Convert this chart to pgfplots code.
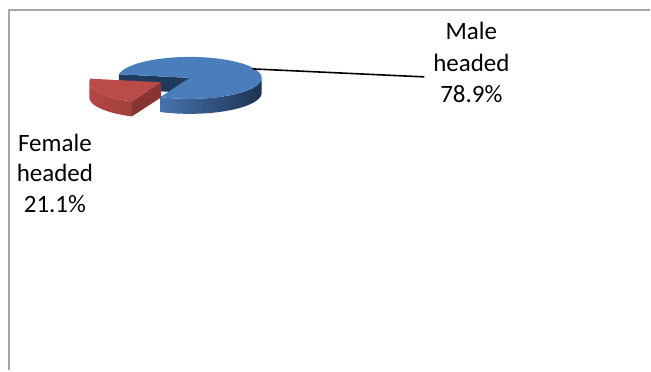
\documentclass[border=0pt]{standalone}
\usepackage{fontspec}
\setmainfont{Carlito}
\usepackage{pgfplots}
\usepackage{pgfplotstable}
\pgfplotsset{compat=1.18}
\definecolor{blueTop}{HTML}{4A7EBA}
\definecolor{navyCut}{HTML}{1F3A5D}
\definecolor{sideL}{HTML}{4673AD}
\definecolor{sideR}{HTML}{1C3351}
\definecolor{redTop}{HTML}{BA4B48}
\definecolor{redRimL}{HTML}{B24744}
\definecolor{redRimR}{HTML}{A0403D}
\definecolor{redCut}{HTML}{873432}
\definecolor{frameGray}{HTML}{A6A6A6}

\pgfplotstableread{
label value
Female 21.1
Male 78.9
}\piedata

\begin{document}
\begin{tikzpicture}
\pgfplotstablegetelem{0}{value}\of\piedata \let\vF\pgfplotsretval
\pgfplotstablegetelem{1}{value}\of\piedata \let\vM\pgfplotsretval
% geometry (pixels)
\pgfmathsetmacro\cx{190}
\pgfmathsetmacro\cy{78}
\pgfmathsetmacro\rx{72}
\pgfmathsetmacro\ry{21}
\pgfmathsetmacro\h{15}
\pgfmathsetmacro\aZ{170}
\pgfmathsetmacro\aF{\aZ+3.6*\vF}
\pgfmathsetmacro\aM{\aF+3.6*\vM}
\pgfmathsetmacro\amid{(\aZ+\aF)/2}
\pgfmathsetmacro\dx{0.45*\rx*cos(\amid)}
\pgfmathsetmacro\dy{-0.45*\ry*sin(\amid)}
\pgfmathsetmacro\fx{\cx+\dx}
\pgfmathsetmacro\fy{\cy+\dy}
\pgfmathsetmacro\pxz{\cx+\rx*cos(\aZ)}
\pgfmathsetmacro\pyz{\cy-\ry*sin(\aZ)}
\pgfmathsetmacro\pyzb{\pyz+\h}
\pgfmathsetmacro\cyb{\cy+\h}
\pgfmathsetmacro\qxf{\fx+\rx*cos(\aF)}
\pgfmathsetmacro\qyf{\fy-\ry*sin(\aF)}
\pgfmathsetmacro\qyfb{\qyf+\h}
\pgfmathsetmacro\fyb{\fy+\h}
\begin{axis}[width=651pt,height=371pt,scale only axis,
  xmin=0,xmax=651,ymin=0,ymax=371,y dir=reverse,
  hide axis, clip=false, no markers]
\path (rel axis cs:0,0) rectangle (rel axis cs:1,1);
% frame
\addplot[color=frameGray, line width=1.8pt] coordinates {(9,371) (9,10) (651,10)};
% male rim (front visible part)
\addplot[draw=none, left color=sideL, right color=sideR, variable=\t, samples at={0,1,...,201}]
  ({\cx+\rx*cos(\aF+(360-\aF)*ifthenelse(\t<=100,\t,201-\t)/100)},
   {\cy-\ry*sin(\aF+(360-\aF)*ifthenelse(\t<=100,\t,201-\t)/100)+(\t>100)*\h});
% male cut face
\addplot[fill=navyCut, draw=none] coordinates {(\cx,\cy) (\pxz,\pyz) (\pxz,\pyzb) (\cx,\cyb)};
% male top
\addplot[fill=blueTop, draw=none, variable=\t, samples at={-1,0,1,...,100}]
  ({\cx+(\t>=0)*\rx*cos(\aF+(\aM-\aF)*max(\t,0)/100)},
   {\cy-(\t>=0)*\ry*sin(\aF+(\aM-\aF)*max(\t,0)/100)});
% female rim (visible 180..aF)
\addplot[draw=none, left color=redRimL, right color=redRimR, variable=\t, samples at={0,1,...,201}]
  ({\fx+\rx*cos(180+(\aF-180)*ifthenelse(\t<=100,\t,201-\t)/100)},
   {\fy-\ry*sin(180+(\aF-180)*ifthenelse(\t<=100,\t,201-\t)/100)+(\t>100)*\h});
% female cut face
\addplot[fill=redCut, draw=none] coordinates {(\fx,\fy) (\qxf,\qyf) (\qxf,\qyfb) (\fx,\fyb)};
% female top
\addplot[fill=redTop, draw=none, variable=\t, samples at={-1,0,1,...,100}]
  ({\fx+(\t>=0)*\rx*cos(\aZ+(\aF-\aZ)*max(\t,0)/100)},
   {\fy-(\t>=0)*\ry*sin(\aZ+(\aF-\aZ)*max(\t,0)/100)});
% leader line
\addplot[black, line width=1.6pt] coordinates {(253,69) (425,77)};
% labels
\begin{scope}[every node/.style={font=\fontsize{25}{31}\selectfont, anchor=base, inner sep=0pt}]
\node at (axis cs:472,40) {Male};
\node at (axis cs:472,72) {headed};
\node at (axis cs:472,103) {78.9\%};
\node at (axis cs:55,152) {Female};
\node at (axis cs:55,182) {headed};
\node at (axis cs:55,213) {21.1\%};
\end{scope}
\end{axis}
\end{tikzpicture}
\end{document}
